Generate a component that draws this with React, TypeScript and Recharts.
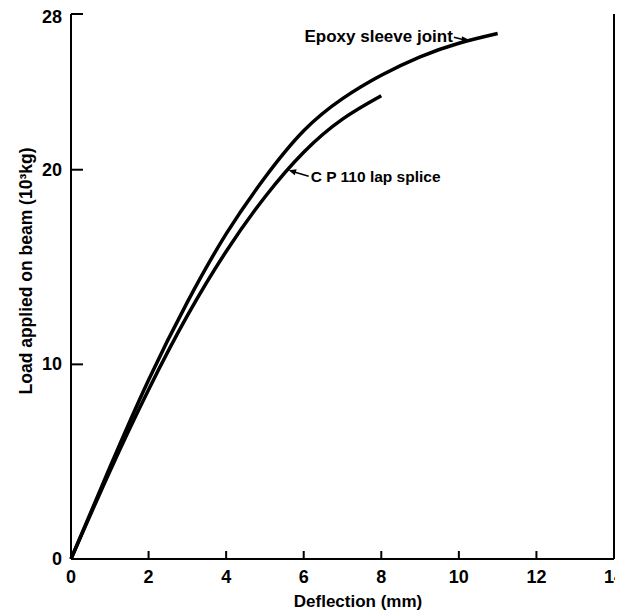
import React from "react";
import { LineChart, Line, XAxis, YAxis, CartesianGrid } from "recharts";

// values (deflection in mm, load in 10^3 kg)
const xTicks = [0, 2, 4, 6, 8, 10, 12, 14];
const yTicks = [0, 10, 20, 28];

const epoxyDeflection = [0, 1, 2, 3, 4, 5, 6, 7, 8, 9, 10, 11];
const epoxyLoad = [0, 4.7, 9.2, 13.2, 16.7, 19.6, 22.0, 23.65, 24.85, 25.8, 26.5, 27.0];

const lapDeflection = [0, 1, 2, 3, 4, 5, 6, 7, 8];
const lapLoad = [0, 4.5, 8.7, 12.5, 15.8, 18.6, 20.9, 22.6, 23.8];

// one table for the chart; the lap splice curve stops at 8 mm
const data = epoxyDeflection.map((d, i) => {
  const j = lapDeflection.indexOf(d);
  return { d, epoxy: epoxyLoad[i], lap: j >= 0 ? lapLoad[j] : null };
});

const FONT = "'Liberation Sans', Arial, sans-serif";

// tick lines come from recharts (negative tickSize = inward); these only place the labels
const XTickLabel = ({ x, y, payload }: any) => (
  <text x={x} y={y + 32} textAnchor="middle" fontSize={18} fontWeight="bold" fontFamily={FONT} fill="#000">
    {payload.value}
  </text>
);

const YTickLabel = ({ x, y, payload }: any) => (
  <text x={x - 21} y={y + 6} textAnchor="end" fontSize={18} fontWeight="bold" fontFamily={FONT} fill="#000">
    {payload.value}
  </text>
);

// annotation for the epoxy curve, hung on its 10 mm point
const epoxyDot = (props: any) => {
  if (props.index !== 10 || props.cy == null) return <g key={`e-${props.index}`} />;
  const x = props.cx + 11;
  const y = props.cy - 3;
  return (
    <g key={`e-${props.index}`}>
      <line x1={x - 16} y1={y - 3} x2={x - 4} y2={y} stroke="#000" strokeWidth={1.5} />
      <polygon points={`${x},${y} ${x - 8},${y - 4} ${x - 8},${y + 3}`} fill="#000" />
      <text x={x - 17} y={y + 2} fontSize={17} fontWeight="bold" fontFamily={FONT} fill="#000" textAnchor="end">
        Epoxy sleeve joint
      </text>
    </g>
  );
};

// annotation for the lap splice curve, hung on its 6 mm point
const lapDot = (props: any) => {
  if (props.index !== 6 || props.cy == null) return <g key={`l-${props.index}`} />;
  const x = props.cx - 16;
  const y = props.cy + 18;
  return (
    <g key={`l-${props.index}`}>
      <line x1={x + 4} y1={y + 1} x2={x + 21} y2={y + 6} stroke="#000" strokeWidth={1.5} />
      <polygon points={`${x + 1},${y} ${x + 9},${y - 1} ${x + 7},${y + 5}`} fill="#000" />
      <text x={x + 23} y={y + 12} fontSize={15.5} fontWeight="bold" fontFamily={FONT} fill="#000">
        C P 110 lap splice
      </text>
    </g>
  );
};

export default function App() {
  return (
    <div style={{ position: "relative", width: 615, height: 608 }}>
      <LineChart width={615} height={608} data={data} margin={{ top: 6, right: 9, left: 0, bottom: 0 }}>
        <CartesianGrid
          horizontal
          vertical
          horizontalValues={[28]}
          verticalValues={[14]}
          stroke="#000"
          strokeWidth={2}
        />
        <XAxis
          dataKey="d"
          type="number"
          domain={[0, 14]}
          ticks={xTicks}
          height={57}
          tick={<XTickLabel />}
          tickSize={-8}
          tickMargin={0}
          tickLine={{ stroke: "#000", strokeWidth: 2 }}
          axisLine={{ stroke: "#000", strokeWidth: 2 }}
        />
        <XAxis
          xAxisId="top"
          orientation="top"
          dataKey="d"
          type="number"
          domain={[0, 14]}
          height={0}
          tick={false}
          tickLine={false}
          axisLine={{ stroke: "#000", strokeWidth: 2 }}
        />
        <YAxis
          type="number"
          domain={[0, 28]}
          ticks={yTicks}
          width={63}
          tick={<YTickLabel />}
          tickSize={-12}
          tickMargin={0}
          tickLine={{ stroke: "#000", strokeWidth: 2 }}
          axisLine={{ stroke: "#000", strokeWidth: 2 }}
        />
        <YAxis
          yAxisId="right"
          orientation="right"
          type="number"
          domain={[0, 28]}
          width={0}
          tick={false}
          tickLine={false}
          axisLine={{ stroke: "#000", strokeWidth: 2 }}
        />
        <Line dataKey="epoxy" type="natural" stroke="#000" strokeWidth={3.5} dot={epoxyDot} isAnimationActive={false} />
        <Line dataKey="lap" type="natural" stroke="#000" strokeWidth={3.5} dot={lapDot} isAnimationActive={false} />
      </LineChart>
      {/* axis titles */}
      <svg width={615} height={608} style={{ position: "absolute", left: 0, top: 0, pointerEvents: "none" }}>
        <text x={350} y={599} textAnchor="middle" fontSize={17} fontWeight="bold" fontFamily={FONT} fill="#000">
          Deflection (mm)
        </text>
        <text
          x={18}
          y={263}
          transform="rotate(-90, 18, 263)"
          textAnchor="middle"
          dominantBaseline="central"
          fontSize={17.5}
          fontWeight="bold"
          fontFamily={FONT}
          fill="#000"
        >
          Load applied on beam (10³kg)
        </text>
      </svg>
    </div>
  );
}
